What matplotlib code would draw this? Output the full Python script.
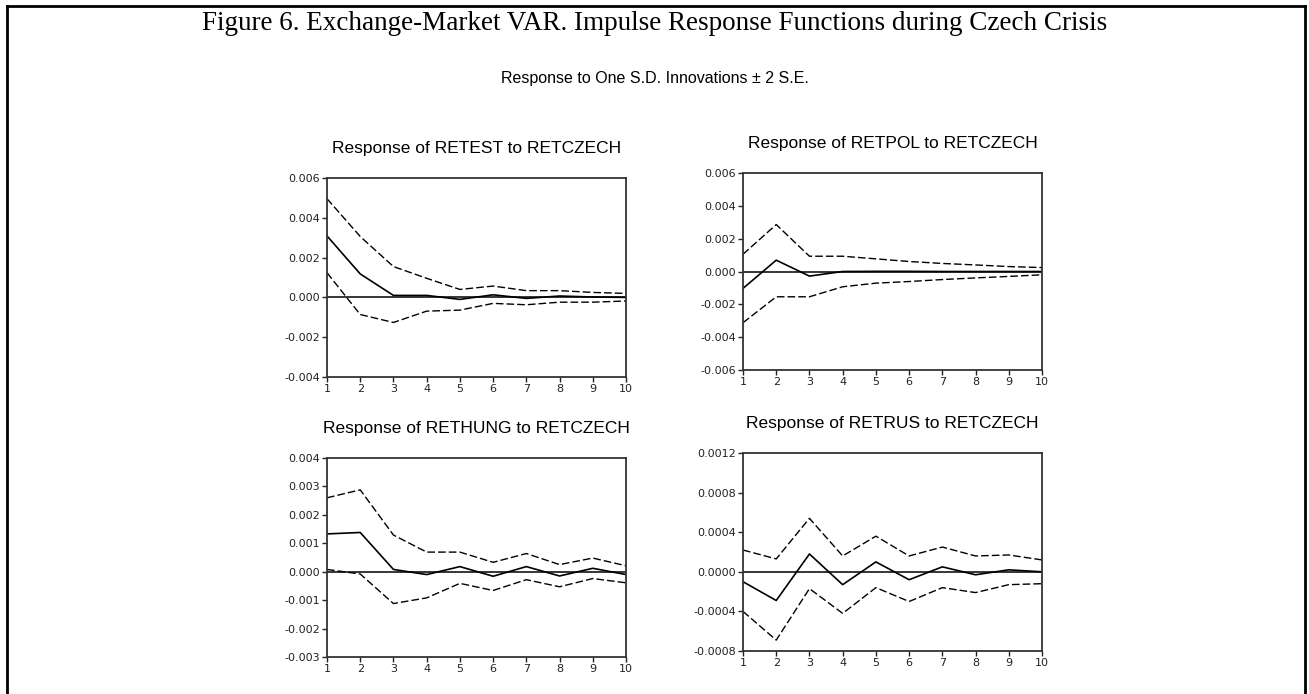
import numpy as np
import matplotlib.pyplot as plt
from matplotlib.lines import Line2D

periodos = list(range(1, 11))

# RETEST
retest = [0.00309, 0.00118, 0.0001, 0.0001, -0.0001, 0.00013, -0.00005, 0.00007, 0.00002, 0.0]
retest_sup = [0.00496, 0.00306, 0.00155, 0.00096, 0.0004, 0.00057, 0.00034, 0.00034, 0.00025, 0.0002]
retest_inf = [0.00124, -0.00086, -0.00126, -0.00069, -0.00064, -0.0003, -0.00037, -0.00024, -0.00024, -0.00018]

# RETPOL
retpol = [-0.00103, 0.00069, -0.00028, 0.0, 0.00001, 0.00001, 0.0, 0.0, 0.0, 0.0]
retpol_sup = [0.00105, 0.00286, 0.00093, 0.00093, 0.00077, 0.00061, 0.00049, 0.0004, 0.0003, 0.00024]
retpol_inf = [-0.00312, -0.00154, -0.00154, -0.00093, -0.00071, -0.00061, -0.00049, -0.00039, -0.0003, -0.0002]

# RETHUNG
rethung = [0.00133, 0.00138, 0.00008, -0.0001, 0.00018, -0.00016, 0.00018, -0.00015, 0.00012, -0.0001]
rethung_sup = [0.0026, 0.00288, 0.00129, 0.00069, 0.00069, 0.00033, 0.00064, 0.00025, 0.00048, 0.00021]
rethung_inf = [0.00008, -0.00008, -0.00112, -0.00092, -0.00041, -0.00066, -0.00028, -0.00053, -0.00024, -0.00039]

# RETRUS
retrus = [-0.0001, -0.00029, 0.00018, -0.00013, 0.0001, -0.00008, 0.00005, -0.00003, 0.00002, 0.0]
retrus_sup = [0.00022, 0.00013, 0.00054, 0.00016, 0.00036, 0.00016, 0.00025, 0.00016, 0.00017, 0.00012]
retrus_inf = [-0.0004, -0.00069, -0.00017, -0.00042, -0.00016, -0.0003, -0.00016, -0.00021, -0.00013, -0.00012]

titulos = ["Response of RETEST to RETCZECH", "Response of RETPOL to RETCZECH",
           "Response of RETHUNG to RETCZECH", "Response of RETRUS to RETCZECH"]
yticks_paneles = [
    ([-0.004, -0.002, 0.0, 0.002, 0.004, 0.006], ["-0.004", "-0.002", "0.000", "0.002", "0.004", "0.006"]),
    ([-0.006, -0.004, -0.002, 0.0, 0.002, 0.004, 0.006], ["-0.006", "-0.004", "-0.002", "0.000", "0.002", "0.004", "0.006"]),
    ([-0.003, -0.002, -0.001, 0.0, 0.001, 0.002, 0.003, 0.004], ["-0.003", "-0.002", "-0.001", "0.000", "0.001", "0.002", "0.003", "0.004"]),
    ([-0.0008, -0.0004, 0.0, 0.0004, 0.0008, 0.0012], ["-0.0008", "-0.0004", "0.0000", "0.0004", "0.0008", "0.0012"]),
]
series = [(retest, retest_sup, retest_inf), (retpol, retpol_sup, retpol_inf),
          (rethung, rethung_sup, rethung_inf), (retrus, retrus_sup, retrus_inf)]

# posiciones de los paneles en pixeles: izquierda, arriba, derecha, abajo
W, H = 1309, 694
cajas = [(327, 178, 626, 377), (743, 173, 1042, 370), (327, 458, 626, 657), (743, 453, 1042, 651)]

fig = plt.figure(figsize=(W/100, H/100), dpi=100)

for k in range(4):
    x0, y0, x1, y1 = cajas[k]
    ax = fig.add_axes([x0/W, 1 - y1/H, (x1-x0)/W, (y1-y0)/H])
    resp, sup, inf = series[k]
    ax.plot(periodos, resp, color='black', lw=1.2)
    ax.plot(periodos, sup, color='black', lw=1.0, ls=(0, (5.5, 2.2)))
    ax.plot(periodos, inf, color='black', lw=1.0, ls=(0, (5.5, 2.2)))
    ax.axhline(0, color='black', lw=1.1)
    ticks, etiquetas = yticks_paneles[k]
    ax.set_yticks(ticks)
    ax.set_yticklabels(etiquetas)
    ax.set_ylim(ticks[0], ticks[-1])
    ax.set_xlim(1, 10)
    ax.set_xticks(periodos)
    ax.tick_params(direction='out', length=3.5, width=1, labelsize=8, pad=1.5, colors='#222222')
    for s in ax.spines.values():
        s.set_linewidth(1.3)
        s.set_color('#333333')
    ax.annotate(titulos[k], xy=(0.5, 1), xycoords='axes fraction', xytext=(0, 21.5),
                textcoords='offset points', ha='center', va='center', fontsize=12.5,
                family='Liberation Sans')

fig.text(0.5, 1 - 24/H, "Figure 6. Exchange-Market VAR. Impulse Response Functions during Czech Crisis",
         ha='center', va='center', fontsize=19.5, family='Liberation Serif')
fig.text(655/W, 1 - 79/H, "Response to One S.D. Innovations \u00b1 2 S.E.",
         ha='center', va='center', fontsize=11.5, family='Liberation Sans')

# marco de la figura (sin borde inferior)
fig.add_artist(Line2D([7/W, 7/W], [0, 1 - 6/H], color='black', lw=2, transform=fig.transFigure))
fig.add_artist(Line2D([1305/W, 1305/W], [0, 1 - 6/H], color='black', lw=2, transform=fig.transFigure))
fig.add_artist(Line2D([7/W, 1305/W], [1 - 6/H, 1 - 6/H], color='black', lw=2, transform=fig.transFigure))

plt.savefig("out.png", dpi=100)
